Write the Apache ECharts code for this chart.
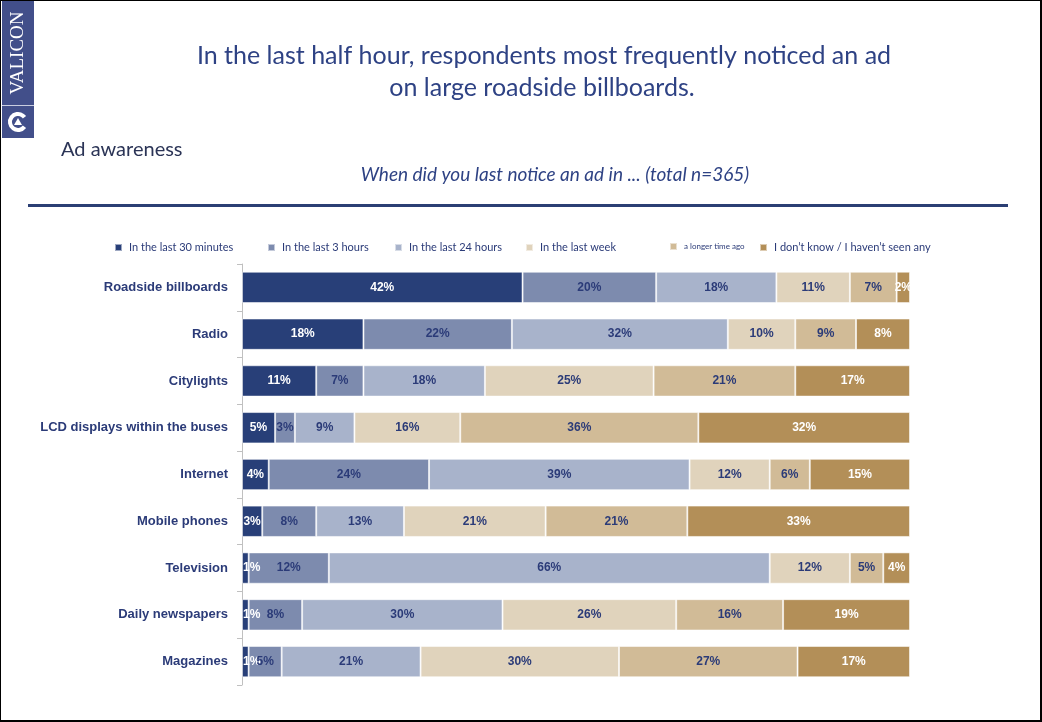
<!DOCTYPE html>
<html>
<head>
<meta charset="utf-8">
<title>Ad awareness</title>
<script src="https://cdn.jsdelivr.net/npm/echarts@6/dist/echarts.min.js"></script>
<style>
  html, body { margin: 0; padding: 0; background: #fff; }
  #chart { width: 1042px; height: 722px; box-sizing: border-box; border: 1px solid #000; border-right-width: 2px; border-bottom-width: 2px; }
</style>
</head>
<body>
<div id="chart"></div>
<script>
const categories = [
  "Roadside billboards", "Radio", "Citylights", "LCD displays within the buses",
  "Internet", "Mobile phones", "Television", "Daily newspapers", "Magazines"
];
const seriesNames = [
  "In the last 30 minutes", "In the last 3 hours", "In the last 24 hours",
  "In the last week", "a longer time ago", "I don\u2019t know / I haven\u2019t seen any"
];
const last30min = [42, 18, 11, 5, 4, 3, 1, 1, 1];
const last3h    = [20, 22, 7, 3, 24, 8, 12, 8, 5];
const last24h   = [18, 32, 18, 9, 39, 13, 66, 30, 21];
const lastWeek  = [11, 10, 25, 16, 12, 21, 12, 26, 30];
const longerAgo = [7, 9, 21, 36, 6, 21, 5, 16, 27];
const dontKnow  = [2, 8, 17, 32, 15, 33, 4, 19, 17];

const values = [last30min, last3h, last24h, lastWeek, longerAgo, dontKnow];
const colors = ["#283f78", "#7d8bae", "#a8b3cb", "#e0d3bc", "#d1bb97", "#b38f58"];
const labelColors = ["#fff", "#2b3b78", "#2b3b78", "#2b3b78", "#2b3b78", "#fff"];
const navy = "#2b3b78";

// each row is stretched to the full width, labels keep the printed percentages
const rowSums = categories.map((c, i) => values.reduce((s, arr) => s + arr[i], 0));

const legendLeft = [108, 261, 388, 519, 663, 753];

const chart = echarts.init(document.getElementById("chart"));

chart.setOption({
  animation: false,
  textStyle: { fontFamily: "Lato" },
  legend: seriesNames.map((name, i) => ({
    data: [{ name: name, icon: "rect" }],
    left: legendLeft[i],
    top: 236,
    itemWidth: 7,
    itemHeight: 7,
    itemGap: 6,
    selectedMode: false,
    textStyle: {
      fontFamily: "Lato",
      fontSize: i === 4 ? 8 : 11,
      color: navy,
      padding: [0, 0, 0, 2]
    }
  })),
  grid: { left: 241, right: 130, top: 263, bottom: 35 },
  xAxis: {
    type: "value",
    min: 0,
    max: 100,
    show: false
  },
  yAxis: {
    type: "category",
    data: categories,
    inverse: true,
    axisLine: { show: true, lineStyle: { color: "#c0c0c0" } },
    axisTick: { show: true, length: 5, lineStyle: { color: "#c0c0c0" } },
    axisLabel: {
      margin: 14,
      fontFamily: "Liberation Sans",
      fontWeight: "bold",
      fontSize: 13,
      color: navy
    }
  },
  series: values.map((arr, s) => ({
    name: seriesNames[s],
    type: "bar",
    stack: "total",
    barCategoryGap: "33%",
    itemStyle: {
      color: colors[s],
      borderColor: "rgba(255,255,255,0.55)",
      borderWidth: 1
    },
    label: {
      show: true,
      position: "inside",
      fontFamily: "Liberation Sans",
      fontWeight: "bold",
      fontSize: 12,
      color: labelColors[s],
      formatter: p => arr[p.dataIndex] + "%"
    },
    data: arr.map((v, i) => {
      const item = { value: v / rowSums[i] * 100 };
      // tiny first segments: label starts at the bar's left edge
      if (s === 0 && v < 3) item.label = { position: "insideLeft", distance: 1 };
      return item;
    })
  })),
  graphic: [
    // brand strip
    { type: "rect", left: 1, top: 0, shape: { width: 32, height: 137 }, style: { fill: "#424f8a" } },
    { type: "rect", left: 1, top: 104, shape: { width: 32, height: 1 }, style: { fill: "#c9cde0" } },
    {
      type: "text", x: 17, y: 52, rotation: Math.PI / 2,
      style: { text: "VALICON", fill: "#fff", font: "19px 'Liberation Serif'", align: "center", verticalAlign: "middle" }
    },
    {
      type: "arc", shape: { cx: 17, cy: 121, r: 8, startAngle: Math.PI * 0.2, endAngle: Math.PI * 1.8 },
      style: { stroke: "#fff", lineWidth: 4, fill: null }
    },
    {
      type: "polygon", shape: { points: [[17, 117], [21, 124], [13, 124]] },
      style: { fill: "#fff" }
    },
    // headline
    {
      type: "text", x: 543, y: 55,
      style: { text: "In the last half hour, respondents most frequently noticed an ad", fill: "#2e4284", font: "25px Lato", align: "center", verticalAlign: "middle" }
    },
    {
      type: "text", x: 541, y: 87,
      style: { text: "on large roadside billboards.", fill: "#2e4284", font: "25px Lato", align: "center", verticalAlign: "middle" }
    },
    {
      type: "text", x: 60, y: 149,
      style: { text: "Ad awareness", fill: "#2b3456", font: "20px Lato", verticalAlign: "middle" }
    },
    {
      type: "text", x: 554, y: 174,
      style: { text: "When did you last notice an ad in ... (total n=365)", fill: "#2e4284", font: "italic 19px Lato", align: "center", verticalAlign: "middle" }
    },
    { type: "rect", left: 27, top: 203, shape: { width: 980, height: 3 }, style: { fill: "#2b3f74" } }
  ]
});
</script>
</body>
</html>
